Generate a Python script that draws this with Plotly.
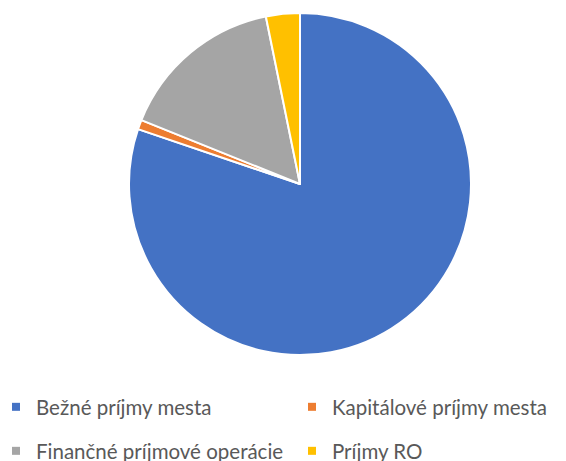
import plotly.graph_objects as go

labels = ["Bežné príjmy mesta", "Kapitálové príjmy mesta", "Finančné príjmové operácie", "Príjmy RO"]
values = [80.2, 0.9, 15.7, 3.2]
colors = ["#4472C4", "#ED7D31", "#A5A5A5", "#FFC000"]

fig = go.Figure()
fig.add_trace(go.Pie(
    labels=labels, values=values, sort=False, direction="clockwise", rotation=0,
    marker=dict(colors=colors, line=dict(color="white", width=2)),
    textinfo="none", hoverinfo="label+percent", showlegend=False,
    domain=dict(x=[121/566, 463/566], y=[1-347/461, 1-5/461]),
))

# legend slots: (x, y) in paper fraction, one legend per entry (2 x 2 grid)
leg_names = ["legend", "legend2", "legend3", "legend4"]
leg_x = [-12/566, 284/566, -12/566, 284/566]
leg_y = [1-399/461, 1-399/461, 1-443/461, 1-443/461]

for lab, col, ln in zip(labels, colors, leg_names):
    fig.add_trace(go.Scatter(
        x=[None], y=[None], mode="markers", name=lab,
        marker=dict(symbol="square", size=8, color=col),
        legend=ln,
    ))

legfont = dict(family="Lato", size=20.5, color="#595959")
layout_legends = {}
for ln, lx, ly in zip(leg_names, leg_x, leg_y):
    layout_legends[ln] = dict(orientation="h", x=lx, xanchor="left", y=ly, yanchor="middle",
                              font=legfont, bgcolor="rgba(0,0,0,0)")

fig.update_layout(
    width=566, height=461, margin=dict(l=0, r=0, t=0, b=0, autoexpand=False),
    paper_bgcolor="white", plot_bgcolor="white",
    xaxis=dict(visible=False), yaxis=dict(visible=False),
    **layout_legends,
)
fig.write_html("out.html")
